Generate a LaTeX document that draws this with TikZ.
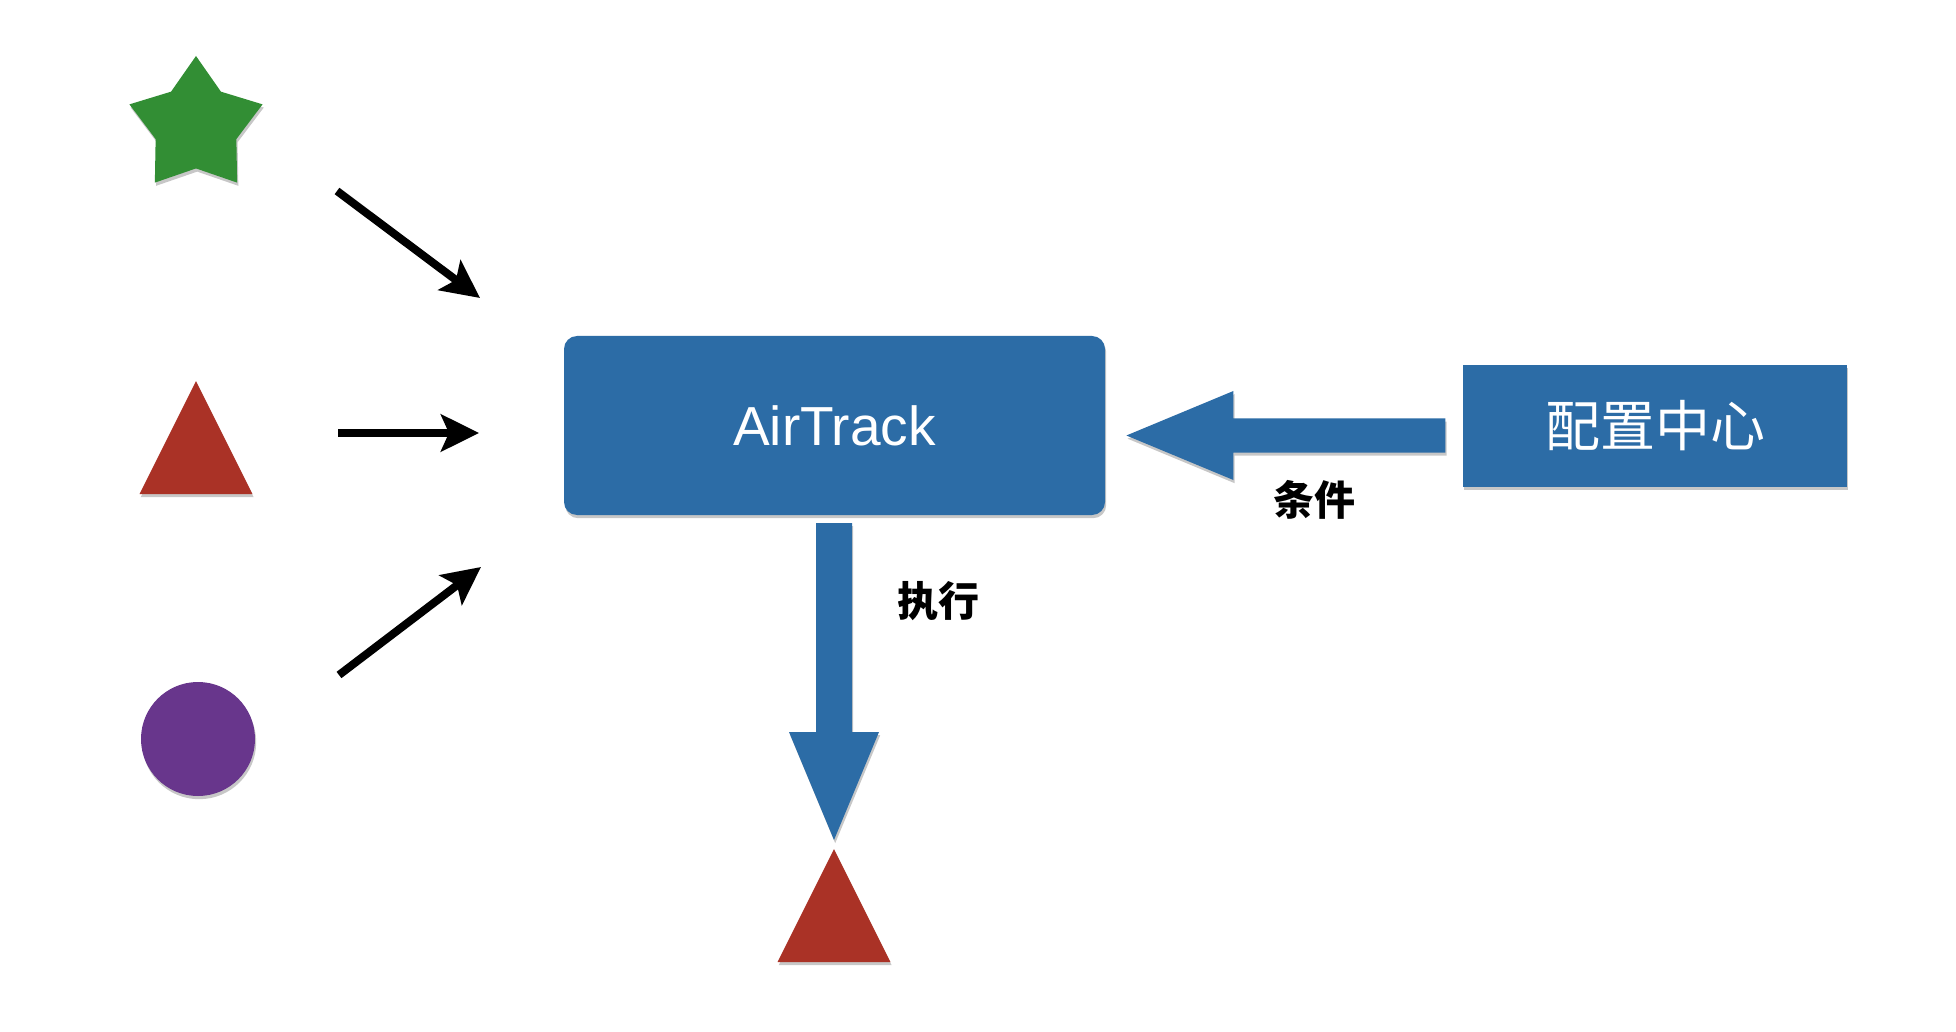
\documentclass[tikz,border=0pt]{standalone}
\usepackage{fontspec}
\setmainfont{Liberation Sans}
\newfontfamily\cjk{Noto Sans CJK SC}
\usetikzlibrary{shapes.geometric,arrows.meta,shadows}
\definecolor{feltblue}{RGB}{44,108,166}
\definecolor{feltred}{RGB}{170,50,38}
\definecolor{feltgreen}{RGB}{50,142,52}
\definecolor{feltpurple}{RGB}{104,54,140}
\tikzset{
  soft/.style={drop shadow={shadow xshift=0.6pt,shadow yshift=-1.6pt,opacity=0.22,fill=black}},
  tri/.style={isosceles triangle, shape border rotate=90, isosceles triangle stretches,
    minimum width=56.5pt, minimum height=56.5pt, inner sep=0pt, fill=feltred, soft},
  bluebox/.style={fill=feltblue, text=white, inner sep=0pt, soft},
  thinarrow/.style={line width=4pt, -{Stealth[length=19pt,width=18.5pt,inset=4pt]}},
  blockarrow/.style={fill=feltblue, soft},
  lbl/.style={font=\cjk\bfseries\fontsize{20.5pt}{20.5pt}\selectfont, text=black, inner sep=0pt}
}
\begin{document}
\begin{tikzpicture}[x=0.5pt,y=-0.5pt]
\useasboundingbox (0,0) rectangle (1956,1032);
\fill[white] (0,0) rectangle (1956,1032);

% left inputs
\node[star, star points=5, star point ratio=1.65, minimum size=70pt, inner sep=0pt,
  fill=feltgreen, soft] (star) at (196,126) {};
\node[tri, anchor=apex] (tri1) at (196,380) {};
\node[circle, minimum size=57pt, inner sep=0pt, fill=feltpurple, soft] (circ) at (198,739) {};

% main boxes
\node[bluebox, rounded corners=6.5pt, minimum width=270.5pt, minimum height=89.5pt,
  font=\fontsize{27.5pt}{27.5pt}\selectfont] (air) at (834.5,425.5) {AirTrack};
\node[bluebox, minimum width=192pt, minimum height=61pt,
  font=\cjk\fontsize{27.5pt}{27.5pt}\selectfont] (cfg) at (1655,426) {配置中心};

% output triangle
\node[tri, anchor=apex] (tri2) at (834,848) {};

% thin input arrows
\coordinate (a1s) at (337,191); \coordinate (a1e) at (480,298);
\coordinate (a2s) at (338,433); \coordinate (a2e) at (479,433);
\coordinate (a3s) at (339,675); \coordinate (a3e) at (481,567);
\draw[thinarrow] (a1s) -- (a1e);
\draw[thinarrow] (a2s) -- (a2e);
\draw[thinarrow] (a3s) -- (a3e);

% block arrow: config centre -> AirTrack
\coordinate (ht) at ([xshift=10.5pt,yshift=-5pt]air.east);
\path[blockarrow] (ht) -- ++(107,-44.5) -- ++(0,27.5) -- ++(212,0) -- ++(0,34)
  -- ++(-212,0) -- ++(0,27.5) -- cycle;

% block arrow: AirTrack -> output
\coordinate (vt) at ([yshift=4pt]tri2.apex);
\path[blockarrow] (vt) -- ++(45,-108) -- ++(-27,0) -- ++(0,-209) -- ++(-36,0)
  -- ++(0,209) -- ++(-27,0) -- cycle;

% labels
\node[lbl] (cond) at (1314,500) {条件};
\node[lbl] (exec) at (938,601) {执行};
\end{tikzpicture}
\end{document}
